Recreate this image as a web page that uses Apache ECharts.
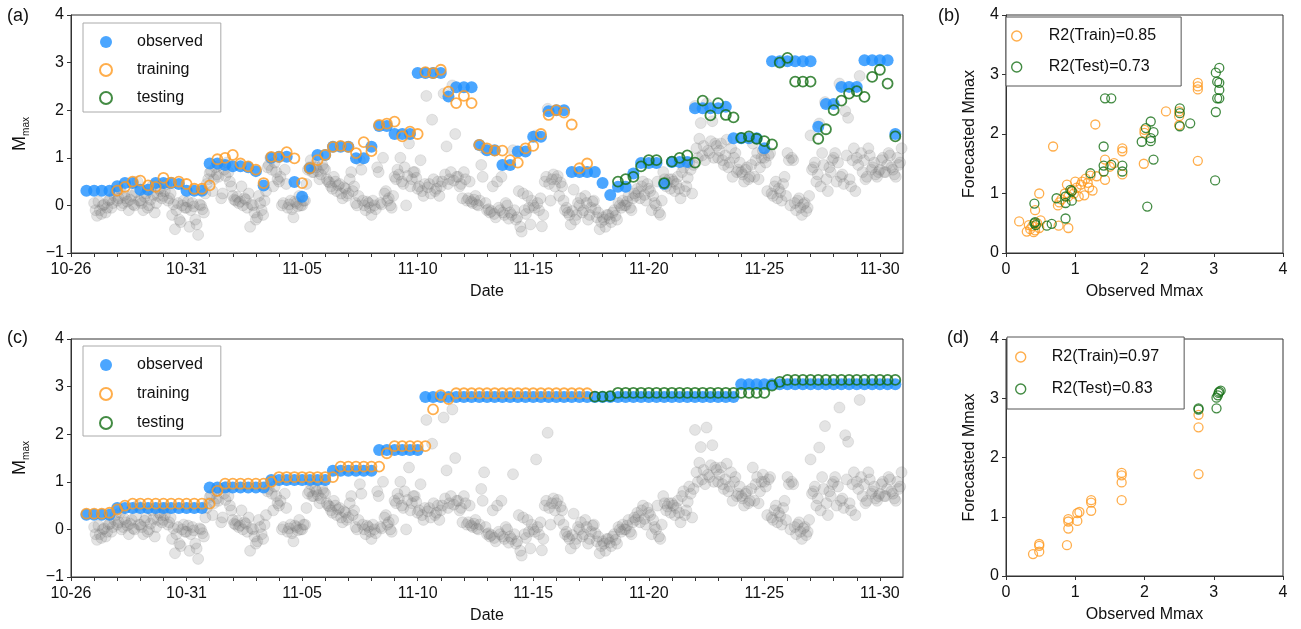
<!DOCTYPE html>
<html>
<head>
<meta charset="utf-8">
<script src="https://cdn.jsdelivr.net/npm/echarts@6/dist/echarts.min.js"></script>
<style>
html, body { margin: 0; padding: 0; background: #fff; }
#main { width: 1301px; height: 629px; }
</style>
</head>
<body>
<div id="main"></div>
<script>
// sampling of the Mmax series: point k sits at day (2 + k) / 3 after 10-26 00:00
var sampleOffset = 2;
var sampleStep = 1 / 3;

// observed Mmax, panel (a)
var obsA = [
    0.31, 0.31, 0.31, 0.31, 0.40, 0.47, 0.47, 0.33, 0.33, 0.47, 0.47, 0.47,
    0.45, 0.31, 0.31, 0.31, 0.88, 0.88, 0.85, 0.82, 0.82, 0.80, 0.72, 0.42,
    1.00, 1.02, 1.02, 0.49, 0.18, 0.78, 1.06, 1.06, 1.23, 1.23, 1.23, 0.99,
    0.99, 1.23, 1.67, 1.67, 1.50, 1.50, 1.50, 2.78, 2.78, 2.78, 2.78, 2.29,
    2.48, 2.48, 2.48, 1.27, 1.16, 1.16, 0.85, 0.85, 1.13, 1.13, 1.44, 1.44,
    1.98, 2.00, 2.00, 0.70, 0.70, 0.70, 0.70, 0.47, 0.22, 0.39, 0.39, 0.67,
    0.89, 0.89, 0.89, 0.45, 0.91, 0.91, 0.91, 2.04, 2.04, 2.04, 2.04, 2.07,
    1.41, 1.41, 1.41, 1.41, 1.20, 3.03, 3.03, 3.03, 3.03, 3.03, 3.03, 1.65,
    2.13, 2.13, 2.49, 2.49, 2.49, 3.05, 3.05, 3.05, 3.05, 1.50
];
// forecast, panel (a): training from sample 4, testing from sample 69
var trainAStart = 4;
var trainA = [
    0.31, 0.39, 0.50, 0.52, 0.42, 0.39, 0.58, 0.48, 0.50, 0.45, 0.35, 0.35,
    0.42, 0.97, 1.00, 1.06, 0.88, 0.82, 0.75, 0.47, 1.02, 1.02, 1.12, 0.99,
    0.47, 0.78, 0.95, 1.06, 1.23, 1.25, 1.23, 1.10, 1.33, 1.14, 1.69, 1.72,
    1.76, 1.45, 1.55, 1.50, 2.80, 2.78, 2.85, 2.39, 2.15, 2.30, 2.15, 1.27,
    1.20, 1.15, 1.15, 0.95, 0.90, 1.20, 1.25, 1.50, 1.90, 2.00, 1.95, 1.70,
    0.78, 0.88
];
var testAStart = 69;
var testA = [
    0.50, 0.55, 0.60, 0.82, 0.95, 0.95, 0.47, 0.92, 1.00, 1.05, 0.90, 2.20,
    1.89, 2.15, 1.90, 1.85, 1.42, 1.45, 1.40, 1.35, 1.28, 3.00, 3.10, 2.60,
    2.60, 2.60, 1.40, 1.60, 2.00, 2.20, 2.35, 2.40, 2.28, 2.70, 2.85, 2.56,
    1.45
];

// observed Mmax, panel (c)
var obsC = [
    0.31, 0.31, 0.31, 0.31, 0.45, 0.45, 0.45, 0.45, 0.45, 0.45, 0.45, 0.45,
    0.45, 0.45, 0.45, 0.45, 0.88, 0.88, 0.88, 0.88, 0.88, 0.88, 0.88, 0.88,
    1.04, 1.04, 1.04, 1.04, 1.04, 1.04, 1.04, 1.04, 1.23, 1.23, 1.23, 1.23,
    1.23, 1.23, 1.67, 1.67, 1.67, 1.67, 1.67, 1.67, 2.78, 2.78, 2.78, 2.78,
    2.78, 2.78, 2.78, 2.78, 2.78, 2.78, 2.78, 2.78, 2.78, 2.78, 2.78, 2.78,
    2.78, 2.78, 2.78, 2.78, 2.78, 2.78, 2.78, 2.78, 2.78, 2.78, 2.78, 2.78,
    2.78, 2.78, 2.78, 2.78, 2.78, 2.78, 2.78, 2.78, 2.78, 2.78, 2.78, 2.78,
    2.78, 3.05, 3.05, 3.05, 3.05, 3.05, 3.05, 3.05, 3.05, 3.05, 3.05, 3.05,
    3.05, 3.05, 3.05, 3.05, 3.05, 3.05, 3.05, 3.05, 3.05, 3.05
];
var trainCStart = 0;
var trainC = [
    0.33, 0.33, 0.33, 0.35, 0.42, 0.50, 0.54, 0.54, 0.54, 0.54, 0.54, 0.54,
    0.54, 0.54, 0.54, 0.54, 0.54, 0.81, 0.96, 0.96, 0.96, 0.96, 0.96, 0.96,
    1.00, 1.10, 1.10, 1.10, 1.10, 1.10, 1.10, 1.10, 1.10, 1.32, 1.32, 1.32,
    1.32, 1.32, 1.32, 1.60, 1.75, 1.75, 1.75, 1.75, 1.75, 2.52, 2.82, 2.74,
    2.86, 2.86, 2.86, 2.86, 2.86, 2.86, 2.86, 2.86, 2.86, 2.86, 2.86, 2.86,
    2.86, 2.86, 2.86, 2.86, 2.86, 2.86
];
var testCStart = 66;
var testC = [
    2.79, 2.79, 2.80, 2.87, 2.87, 2.87, 2.87, 2.87, 2.87, 2.87, 2.87, 2.87,
    2.87, 2.87, 2.87, 2.87, 2.87, 2.87, 2.87, 2.87, 2.87, 2.87, 2.87, 3.02,
    3.10, 3.14, 3.14, 3.14, 3.14, 3.14, 3.14, 3.14, 3.14, 3.14, 3.14, 3.14,
    3.14, 3.14, 3.14, 3.14
];

// background magnitudes (grey dots), two interleaved runs of eight per day from 10-27
var bgStart = 1;
var bgStep = 1 / 8;
var bgValues = [
    0.05, -0.22, -0.10, 0.00, -0.15, 0.10, -0.05, 0.20,
    0.10, 0.35, 0.05, 0.15, -0.10, 0.20, 0.00, 0.50,
    0.10, -0.10, 0.25, 0.00, 0.40, -0.15, 0.20, 0.30,
    0.20, 0.45, 0.15, -0.20, -0.50, 0.05, -0.35, 0.10,
    -0.05, -0.45, 0.05, -0.30, -0.62, 0.00, -0.15, 0.45,
    0.68, 0.30, 0.80, 0.60, 0.15, 0.75, 0.90, 0.50,
    0.20, 0.10, 0.05, 0.40, 0.15, -0.05, -0.45, 0.00,
    -0.30, 0.20, -0.10, 0.10, 0.80, 1.00, 0.40, 0.70,
    0.50, 0.00, 0.75, -0.05, 0.10, -0.25, 0.05, 0.20,
    0.00, 0.10, 0.75, 0.95, 0.70, 0.80, 0.55, 0.85,
    0.75, 0.50, 0.40, 0.60, 0.30, 0.45, 0.15, 0.35,
    0.25, 0.70, 0.40, 0.00, 0.95, 0.10, -0.10, 0.05,
    -0.20, 0.00, 0.80, 0.05, 1.00, 0.30, 0.15, -0.05,
    0.60, 0.75, 1.00, 0.45, 0.00, 1.30, 0.55, 0.70,
    0.35, 0.95, 0.20, 2.30, 0.45, 1.80, 0.30, 0.50,
    0.40, 2.35, 1.24, 0.55, 2.52, 1.50, 0.60, 0.45,
    0.70, 0.10, 0.50, 0.05, 0.20, 0.00, 0.85, 1.20,
    -0.10, -0.15, 0.40, -0.25, -0.05, 0.60, -0.20, 0.00,
    -0.15, 1.16, -0.30, 0.30, -0.55, -0.10, 0.20, -0.40,
    0.00, 1.47, -0.10, -0.44, 0.50, 2.03, 0.10, 0.65,
    0.55, 0.20, 0.40, -0.10, -0.15, -0.40, 0.33, -0.20,
    0.00, -0.15, 0.20, -0.30, -0.05, 0.10, -0.25, -0.50,
    -0.25, -0.45, -0.20, -0.35, -0.10, -0.30, 0.00, 0.10,
    0.00, 0.20, -0.10, 0.25, 0.35, 0.15, 0.50, 0.10,
    0.35, -0.10, 0.05, 0.50, -0.20, 0.70, 0.40, 0.55,
    0.55, 0.30, 0.60, 0.15, 0.80, 0.40, 0.90, 0.25,
    2.09, 1.00, 1.73, 1.25, 2.14, 1.10, 1.77, 1.30,
    1.00, 1.30, 0.85, 1.38, 0.90, 0.60, 1.10, 0.75,
    0.70, 0.50, 0.80, 0.60, 1.30, 0.95, 0.55, 1.00,
    1.00, 0.30, 1.10, 0.20, 0.50, 0.35, 0.10, 0.60,
    1.10, 0.00, 0.95, -0.10, 0.15, -0.20, 0.05, -0.05,
    1.47, 0.80, 0.50, 1.72, 1.10, 2.17, 0.30, 0.70,
    1.00, 0.50, 2.56, 0.65, 1.98, 1.84, 0.40, 1.20,
    1.00, 2.72, 0.70, 0.55, 1.20, 0.75, 0.90, 0.60,
    0.75, 1.00, 0.70, 1.10, 0.80, 0.65, 1.00, 0.90
];
var bgValuesB = [
    -0.10, 0.08, -0.18, 0.02, -0.05, 0.12, 0.05, 0.30,
    0.15, 0.00, 0.22, 0.08, 0.12, 0.02, 0.28, 0.10,
    0.05, 0.18, -0.05, 0.12, 0.22, 0.05, 0.35, 0.15,
    0.30, 0.10, 0.25, 0.02, -0.10, -0.30, 0.00, -0.05,
    0.08, -0.10, -0.02, -0.40, 0.02, -0.08, 0.25, 0.55,
    0.72, 0.55, 0.65, 0.85, 0.25, 0.62, 0.70, 0.40,
    0.12, 0.18, 0.08, 0.00, 0.12, 0.25, 0.02, -0.15,
    -0.25, 0.05, -0.20, 0.30, 0.85, 0.75, 0.90, 0.55,
    0.60, 0.05, 0.45, 0.02, -0.08, 0.08, -0.02, 0.00,
    0.10, 0.45, 0.80, 0.70, 0.85, 0.72, 0.65, 0.78,
    0.55, 0.48, 0.35, 0.50, 0.42, 0.25, 0.38, 0.20,
    0.55, 0.30, 0.05, 0.20, 0.75, 0.00, 0.08, -0.05,
    0.10, -0.08, 0.70, 0.02, 0.25, 0.10, 0.00, 0.20,
    0.55, 0.65, 0.50, 0.80, 0.62, 0.40, 0.70, 0.58,
    0.40, 0.30, 0.45, 0.38, 0.25, 0.55, 0.35, 0.20,
    0.50, 0.65, 0.45, 0.70, 0.52, 0.60, 0.40, 0.15,
    0.55, 0.15, 0.08, 0.12, 0.02, 0.10, 0.60, 0.05,
    -0.08, -0.12, -0.18, 0.50, -0.10, -0.15, 0.05, -0.28,
    -0.20, -0.10, -0.25, -0.45, 0.25, -0.18, -0.05, 0.10,
    -0.05, 0.05, 0.15, -0.20, 0.60, 0.45, 0.55, 0.40,
    0.62, 0.48, 0.10, -0.05, -0.20, -0.12, -0.30, 0.05,
    0.15, -0.10, 0.05, -0.20, 0.08, -0.08, -0.15, -0.35,
    -0.30, -0.20, -0.28, -0.15, -0.22, 0.05, -0.05, 0.00,
    0.08, -0.05, 0.15, 0.20, 0.28, 0.40, 0.22, 0.45,
    0.30, 0.20, 0.00, -0.15, 0.10, 0.55, 0.48, 0.35,
    0.50, 0.45, 0.35, 0.70, 0.30, 0.58, 0.75, 0.85,
    1.20, 1.40, 1.05, 0.95, 1.15, 1.35, 1.00, 1.25,
    1.15, 0.95, 1.05, 0.80, 1.20, 1.00, 0.70, 0.90,
    0.65, 0.75, 0.55, 0.85, 0.60, 1.10, 0.80, 1.15,
    0.90, 1.05, 0.25, 0.40, 0.15, 0.28, 0.45, 0.20,
    0.95, 1.00, 0.05, 0.10, -0.05, 0.02, -0.12, 0.20,
    0.75, 0.90, 0.65, 0.40, 0.85, 0.55, 0.80, 0.95,
    1.10, 0.90, 0.60, 0.45, 1.05, 0.55, 0.95, 0.30,
    0.85, 1.10, 0.95, 0.60, 1.05, 0.80, 0.65, 0.70,
    0.95, 0.70, 0.85, 1.05, 0.75, 0.60, 0.85, 1.20
];

// observed vs forecasted, panel (b)
var trainB = [
    [0.19, 0.53], [0.30, 0.36], [0.33, 0.47], [0.35, 0.40], [0.38, 0.45], [0.40, 0.35],
    [0.42, 0.38], [0.45, 0.50], [0.48, 0.42], [0.50, 0.55], [0.42, 0.72], [0.48, 1.00],
    [0.68, 1.79], [0.76, 0.46], [0.90, 0.42], [0.75, 0.80], [0.77, 0.85], [0.80, 0.90],
    [0.85, 1.00], [0.88, 1.15], [0.90, 0.95], [0.95, 1.05], [0.98, 1.00], [1.00, 1.20],
    [1.02, 1.10], [1.05, 0.95], [1.08, 1.15], [1.10, 1.20], [1.13, 0.97], [1.15, 1.25],
    [1.18, 1.18], [1.20, 1.10], [1.22, 1.30], [1.25, 1.05], [1.29, 2.16], [1.31, 1.29],
    [1.43, 1.23], [1.43, 1.57], [1.50, 1.45], [1.56, 1.51], [1.68, 1.76], [1.68, 1.71],
    [1.68, 1.32], [1.99, 1.50], [2.00, 2.02], [2.00, 2.07], [2.31, 2.38], [2.50, 2.38],
    [2.50, 2.30], [2.50, 2.15], [2.77, 2.86], [2.77, 2.80], [2.77, 2.75], [2.77, 1.55]
];
var testB = [
    [0.41, 0.50], [0.41, 0.83], [0.42, 0.52], [0.43, 0.47], [0.59, 0.46], [0.66, 0.49],
    [0.73, 0.92], [0.86, 0.58], [0.86, 0.84], [0.86, 0.95], [0.93, 1.06], [0.95, 1.04],
    [0.95, 0.88], [1.22, 1.34], [1.41, 1.37], [1.41, 1.47], [1.41, 1.79], [1.43, 2.60],
    [1.52, 2.60], [1.52, 1.48], [1.68, 1.47], [1.68, 1.37], [1.96, 1.87], [2.02, 2.10],
    [2.09, 2.21], [2.09, 1.93], [2.09, 1.88], [2.13, 2.03], [2.13, 1.57], [2.04, 0.78],
    [2.51, 2.43], [2.51, 2.35], [2.51, 2.13], [2.66, 2.18], [3.02, 1.22], [3.03, 2.37],
    [3.03, 3.03], [3.08, 3.11], [3.05, 2.88], [3.08, 2.86], [3.08, 2.74], [3.08, 2.60],
    [3.05, 2.60]
];
// observed vs forecasted, panel (d)
var trainD = [
    [0.39, 0.37], [0.48, 0.41], [0.48, 0.51], [0.48, 0.54], [0.88, 0.52], [0.90, 0.80],
    [0.90, 0.92], [0.90, 0.96], [1.03, 0.93], [1.03, 1.06], [1.06, 1.08], [1.23, 1.10],
    [1.23, 1.24], [1.23, 1.28], [1.67, 1.28], [1.67, 1.58], [1.67, 1.70], [1.67, 1.74],
    [2.78, 1.72], [2.78, 2.51], [2.78, 2.72]
];
var testD = [
    [2.78, 2.83], [2.78, 2.81], [3.04, 2.83], [3.04, 3.01], [3.06, 3.05], [3.07, 3.09],
    [3.08, 3.11], [3.10, 3.13]
];

// date axis labels (days after 10-26)
var labelDays = [0, 5, 10, 15, 20, 25, 30, 35];
var dateLabels = ['10-26', '10-31', '11-05', '11-10', '11-15', '11-20', '11-25', '11-30'];
var tickDays = [];
for (var d = 0; d <= 35; d++) tickDays.push(d);

var r2Labels = ['R2(Train)=0.85', 'R2(Test)=0.73', 'R2(Train)=0.97', 'R2(Test)=0.83'];

var BLUE = '#1E90FF';
var ORANGE = '#FF9A1F';
var GREEN = '#146E14';
var FONT = '"Liberation Sans", Arial, sans-serif';
var AXIS = '#333';

function toPoints(start, values) {
    var pts = [];
    for (var i = 0; i < values.length; i++) {
        if (values[i] == null) continue;
        pts.push([(sampleOffset + start + i) * sampleStep, values[i]]);
    }
    return pts;
}

var bgPoints = [];
bgValues.forEach(function (v, i) { bgPoints.push([bgStart + i * bgStep, v]); });
bgValuesB.forEach(function (v, i) { bgPoints.push([bgStart + (i + 0.5) * bgStep, v]); });

function minusFmt(v) {
    return v < 0 ? '\u2212' + (-v) : String(v);
}

function timeX(gi) {
    return {
        type: 'value', gridIndex: gi, min: 0, max: 36,
        name: 'Date', nameLocation: 'middle', nameGap: 31,
        nameTextStyle: { fontSize: 16, fontFamily: FONT, color: '#111' },
        axisLine: { show: true, onZero: false, lineStyle: { color: AXIS } },
        axisTick: { show: true, length: 4, customValues: tickDays, lineStyle: { color: AXIS } },
        axisLabel: {
            customValues: labelDays, fontSize: 16, fontFamily: FONT, color: '#111', margin: 9,
            formatter: function (v) {
                var i = labelDays.indexOf(v);
                return i < 0 ? '' : dateLabels[i];
            }
        },
        splitLine: { show: false }
    };
}

function mmaxY(gi) {
    return {
        type: 'value', gridIndex: gi, min: -1, max: 4, interval: 1,
        name: '{m|M}{s|max}', nameLocation: 'middle', nameGap: 40,
        nameTextStyle: {
            fontFamily: FONT, color: '#111',
            rich: {
                m: { fontSize: 18, fontFamily: FONT, color: '#111', lineHeight: 22 },
                s: { fontSize: 10, fontFamily: FONT, color: '#111', lineHeight: 22, verticalAlign: 'bottom' }
            }
        },
        axisLine: { show: true, onZero: false, lineStyle: { color: AXIS } },
        axisTick: { show: true, length: 4, lineStyle: { color: AXIS } },
        axisLabel: { fontSize: 16, fontFamily: FONT, color: '#111', margin: 7, formatter: minusFmt },
        splitLine: { show: false }
    };
}

function scatterAxis(gi, name, isY) {
    return {
        type: 'value', gridIndex: gi, min: 0, max: 4, interval: 1,
        name: name, nameLocation: 'middle', nameGap: isY ? 28 : 31,
        nameTextStyle: { fontSize: 16, fontFamily: FONT, color: '#111' },
        axisLine: { show: true, onZero: false, lineStyle: { color: AXIS } },
        axisTick: { show: true, length: 4, lineStyle: { color: AXIS } },
        axisLabel: { fontSize: 16, fontFamily: FONT, color: '#111', margin: isY ? 7 : 9 },
        splitLine: { show: false }
    };
}

function greySeries(ax) {
    return {
        name: 'background', type: 'scatter', xAxisIndex: ax, yAxisIndex: ax,
        data: bgPoints, symbolSize: 11, z: 1, silent: true,
        itemStyle: { color: 'rgba(128,128,128,0.27)', borderColor: 'rgba(80,80,80,0.25)', borderWidth: 0.6 }
    };
}

function dotSeries(name, ax, data) {
    return {
        name: name, type: 'scatter', xAxisIndex: ax, yAxisIndex: ax,
        data: data, symbolSize: 12, z: 2, itemStyle: { color: BLUE }
    };
}

function ringSeries(name, ax, data, color, size, width) {
    return {
        name: name, type: 'scatter', xAxisIndex: ax, yAxisIndex: ax,
        data: data, symbolSize: size, z: 3,
        itemStyle: { color: 'rgba(255,255,255,0)', borderColor: color, borderWidth: width }
    };
}

function seriesLegend(top, padding, gap) {
    return {
        orient: 'vertical', left: 83, top: top, padding: padding,
        itemWidth: 12, itemHeight: 12, itemGap: gap, selectedMode: false,
        borderColor: '#aaa', borderWidth: 1, backgroundColor: '#fff',
        textStyle: { fontSize: 16, fontFamily: FONT, color: '#111', padding: [0, 0, 0, 20] },
        data: [
            { name: 'observed', icon: 'circle', itemStyle: { color: BLUE, borderWidth: 0 } },
            { name: 'training', icon: 'circle', itemStyle: { color: '#fff', borderColor: ORANGE, borderWidth: 2 } },
            { name: 'testing', icon: 'circle', itemStyle: { color: '#fff', borderColor: GREEN, borderWidth: 2 } }
        ]
    };
}

function r2Legend(left, top, padding, gap, textPad, names) {
    return {
        orient: 'vertical', left: left, top: top, padding: padding,
        itemWidth: 10, itemHeight: 10, itemGap: gap, selectedMode: false,
        borderColor: '#555', borderWidth: 1, backgroundColor: '#fff',
        textStyle: { fontSize: 16, fontFamily: FONT, color: '#111', padding: [0, 0, 0, textPad] },
        data: [
            { name: names[0], icon: 'circle', itemStyle: { color: '#fff', borderColor: ORANGE, borderWidth: 1.4 } },
            { name: names[1], icon: 'circle', itemStyle: { color: '#fff', borderColor: GREEN, borderWidth: 1.4 } }
        ]
    };
}

var chart = echarts.init(document.getElementById('main'), null, { renderer: 'canvas' });

var option = {
    animation: false,
    backgroundColor: '#fff',
    textStyle: { fontFamily: FONT },
    grid: [
        { left: 71, top: 15, width: 832, height: 238, show: true, borderColor: AXIS, borderWidth: 1 },
        { left: 71, top: 339, width: 832, height: 238, show: true, borderColor: AXIS, borderWidth: 1 },
        { left: 1006, top: 15, width: 277, height: 238, show: true, borderColor: AXIS, borderWidth: 1 },
        { left: 1006, top: 339, width: 277, height: 237, show: true, borderColor: AXIS, borderWidth: 1 }
    ],
    xAxis: [
        timeX(0), timeX(1),
        scatterAxis(2, 'Observed Mmax', false), scatterAxis(3, 'Observed Mmax', false)
    ],
    yAxis: [
        mmaxY(0), mmaxY(1),
        scatterAxis(2, 'Forecasted Mmax', true), scatterAxis(3, 'Forecasted Mmax', true)
    ],
    legend: [
        seriesLegend(23, [11, 18, 6, 16], 12),
        seriesLegend(346, [11, 18, 5, 16], 13),
        r2Legend(1006, 17, [11, 25, 11, 5], 15, 22, [r2Labels[0], r2Labels[1]]),
        r2Legend(1007, 337, [12, 25, 12, 8], 16, 21, [r2Labels[2], r2Labels[3]])
    ],
    graphic: [
        { type: 'text', left: 7, top: 7, style: { text: '(a)', font: '18px ' + FONT, fill: '#111' } },
        { type: 'text', left: 938, top: 7, style: { text: '(b)', font: '18px ' + FONT, fill: '#111' } },
        { type: 'text', left: 7, top: 329, style: { text: '(c)', font: '18px ' + FONT, fill: '#111' } },
        { type: 'text', left: 947, top: 329, style: { text: '(d)', font: '18px ' + FONT, fill: '#111' } }
    ],
    series: [
        greySeries(0),
        dotSeries('observed', 0, toPoints(0, obsA)),
        ringSeries('training', 0, toPoints(trainAStart, trainA), ORANGE, 10, 1.8),
        ringSeries('testing', 0, toPoints(testAStart, testA), GREEN, 10, 1.8),

        greySeries(1),
        dotSeries('observed', 1, toPoints(0, obsC)),
        ringSeries('training', 1, toPoints(trainCStart, trainC), ORANGE, 10, 1.8),
        ringSeries('testing', 1, toPoints(testCStart, testC), GREEN, 10, 1.8),

        ringSeries(r2Labels[0], 2, trainB, ORANGE, 9, 1.3),
        ringSeries(r2Labels[1], 2, testB, GREEN, 9, 1.3),
        ringSeries(r2Labels[2], 3, trainD, ORANGE, 9, 1.3),
        ringSeries(r2Labels[3], 3, testD, GREEN, 9, 1.3)
    ]
};

chart.setOption(option);
</script>
</body>
</html>
